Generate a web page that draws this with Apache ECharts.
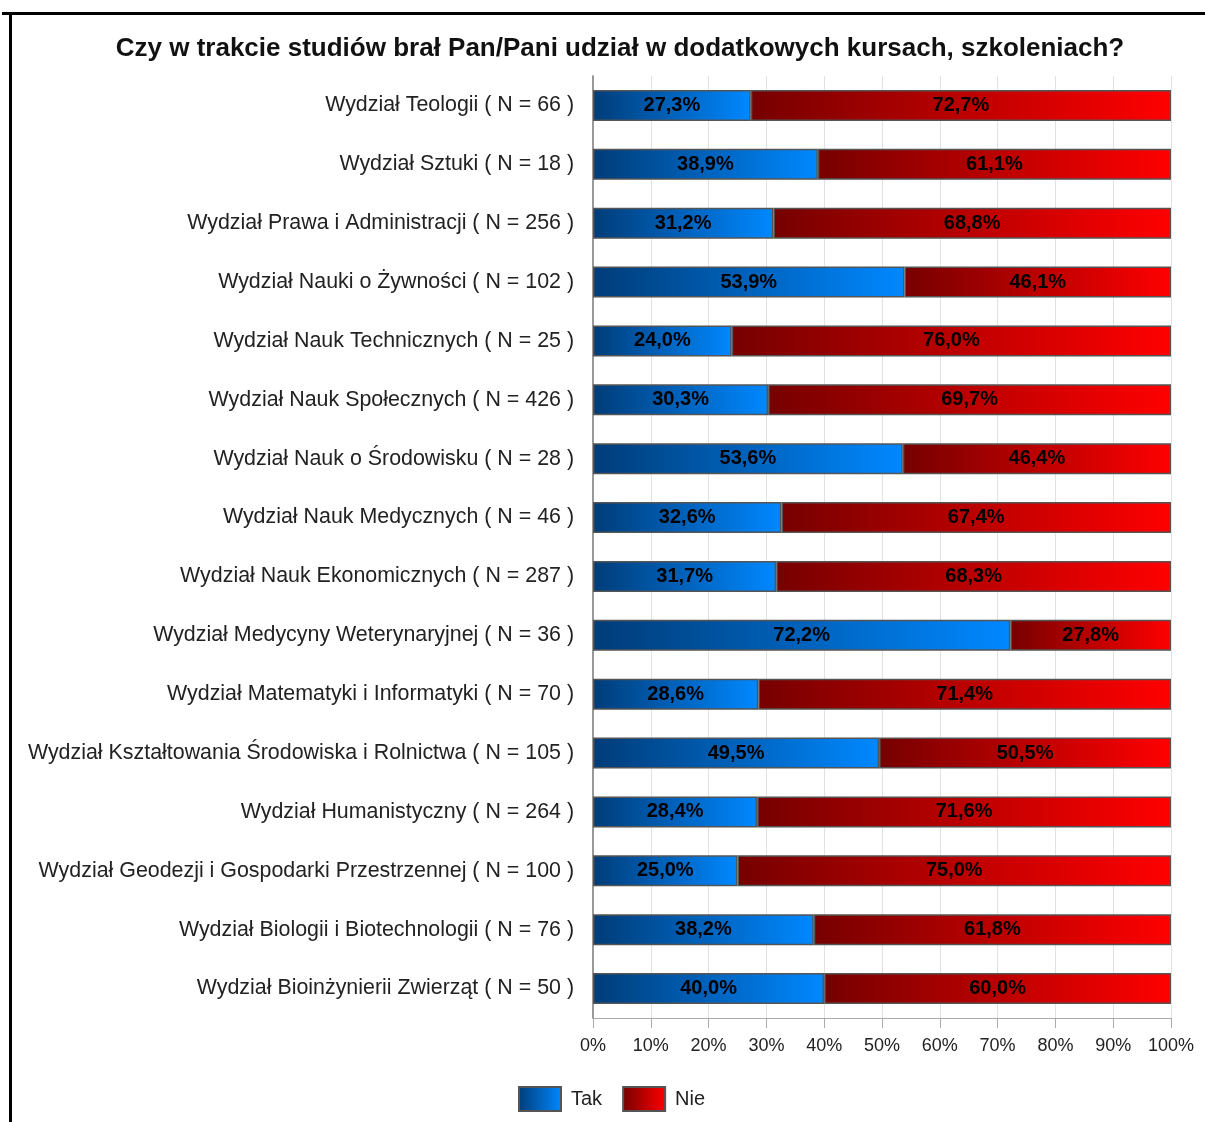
<!DOCTYPE html>
<html><head><meta charset="utf-8">
<script src="https://cdn.jsdelivr.net/npm/echarts@6/dist/echarts.min.js"></script>
<style>html,body{margin:0;padding:0;background:#fff}#c{width:1205px;height:1122px}</style>
</head><body><div id="c"></div>
<script>
const title = 'Czy w trakcie studiów brał Pan/Pani udział w dodatkowych kursach, szkoleniach?';
const categories = [
 'Wydział Teologii ( N = 66 )',
 'Wydział Sztuki ( N = 18 )',
 'Wydział Prawa i Administracji ( N = 256 )',
 'Wydział Nauki o Żywności ( N = 102 )',
 'Wydział Nauk Technicznych ( N = 25 )',
 'Wydział Nauk Społecznych ( N = 426 )',
 'Wydział Nauk o Środowisku ( N = 28 )',
 'Wydział Nauk Medycznych ( N = 46 )',
 'Wydział Nauk Ekonomicznych ( N = 287 )',
 'Wydział Medycyny Weterynaryjnej ( N = 36 )',
 'Wydział Matematyki i Informatyki ( N = 70 )',
 'Wydział Kształtowania Środowiska i Rolnictwa ( N = 105 )',
 'Wydział Humanistyczny ( N = 264 )',
 'Wydział Geodezji i Gospodarki Przestrzennej ( N = 100 )',
 'Wydział Biologii i Biotechnologii ( N = 76 )',
 'Wydział Bioinżynierii Zwierząt ( N = 50 )'
];
const tak = [27.3, 38.9, 31.2, 53.9, 24.0, 30.3, 53.6, 32.6, 31.7, 72.2, 28.6, 49.5, 28.4, 25.0, 38.2, 40.0];
const nie = [72.7, 61.1, 68.8, 46.1, 76.0, 69.7, 46.4, 67.4, 68.3, 27.8, 71.4, 50.5, 71.6, 75.0, 61.8, 60.0];
const seriesNames = ['Tak', 'Nie'];

const FONT = '"Liberation Sans", Arial, sans-serif';
const grad = (a, b) => new echarts.graphic.LinearGradient(0, 0, 1, 0, [{offset: 0, color: a}, {offset: 1, color: b}]);
const fmt = p => p.value.toFixed(1).replace('.', ',') + '%';

const chart = echarts.init(document.getElementById('c'));
const mkSeries = (name, data, c1, c2) => ({
  name, type: 'bar', stack: 'all', data, barWidth: 31,
  itemStyle: {color: grad(c1, c2), borderColor: '#555', borderWidth: 1.5},
  label: {show: true, position: 'inside', formatter: fmt, color: '#000', fontWeight: 'bold', fontSize: 20, fontFamily: FONT},
  emphasis: {disabled: true}, animation: false
});
chart.setOption({
  animation: false,
  title: {text: title, left: 615, textAlign: 'center', top: 31,
    textStyle: {fontSize: 26, fontWeight: 'bold', color: '#111', fontFamily: FONT}},
  grid: {left: 593, right: 34, top: 76, bottom: 104, containLabel: false},
  legend: {top: 1081, left: 513, itemWidth: 42, itemHeight: 24, itemGap: 20, icon: 'rect',
    textStyle: {fontSize: 20, color: '#222', fontFamily: FONT, padding: [0, 0, 0, 5]}, data: seriesNames},
  xAxis: {type: 'value', min: 0, max: 100, interval: 10,
    axisLine: {show: true, lineStyle: {color: '#aaa'}},
    axisTick: {show: true, length: 10, lineStyle: {color: '#aaa'}},
    axisLabel: {formatter: '{value}%', fontSize: 18, color: '#222', margin: 19, fontFamily: FONT},
    splitLine: {show: true, lineStyle: {color: '#e2e2e2', width: 1}}},
  yAxis: {type: 'category', inverse: true, data: categories,
    axisLine: {show: true, lineStyle: {color: '#999', width: 2}},
    axisTick: {show: false},
    axisLabel: {fontSize: 21.4, color: '#222', margin: 19, fontFamily: FONT}},
  series: [
    mkSeries(seriesNames[0], tak, '#003c78', '#0088ff'),
    mkSeries(seriesNames[1], nie, '#760000', '#ff0000')
  ],
  graphic: [
    {type: 'line', shape: {x1: 2, y1: 13.5, x2: 1205, y2: 13.5}, style: {stroke: '#000', lineWidth: 3}},
    {type: 'line', shape: {x1: 10.5, y1: 12, x2: 10.5, y2: 1122}, style: {stroke: '#000', lineWidth: 3}}
  ]
});
</script></body></html>
